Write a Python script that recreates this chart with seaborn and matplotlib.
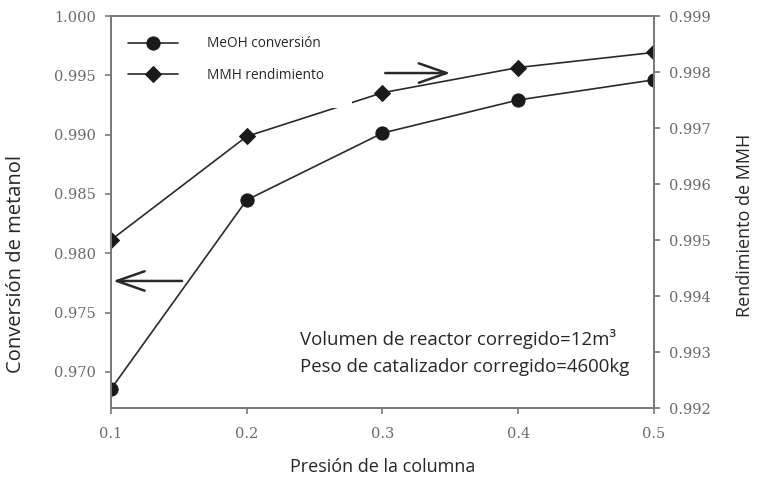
import matplotlib
matplotlib.use("Agg")
import matplotlib.pyplot as plt
import matplotlib.patches as mpatches
import seaborn as sns
import pandas as pd

presion = [0.1, 0.2, 0.3, 0.4, 0.5]
meoh_conversion = [0.96855, 0.98449, 0.99013, 0.99292, 0.99462]
mmh_rendimiento = [0.99500, 0.99685, 0.99763, 0.99808, 0.99835]
x_ticks = [0.1, 0.2, 0.3, 0.4, 0.5]
left_ticks = [0.970, 0.975, 0.980, 0.985, 0.990, 0.995, 1.000]
right_ticks = [0.992, 0.993, 0.994, 0.995, 0.996, 0.997, 0.998, 0.999]

df = pd.DataFrame({"p": presion, "meoh": meoh_conversion, "mmh": mmh_rendimiento})

sns.set_theme(style="white")
plt.rcParams["font.family"] = ["Open Sans", "DejaVu Sans"]

spine_c = "#7a7a7a"
line_c = "#2a2a2a"
tick_c = "#6a6a6a"

W, H = 759, 484
fig = plt.figure(figsize=(W / 100, H / 100), dpi=100)
ax = fig.add_axes([111 / W, 1 - 408 / H, (654 - 111) / W, (408 - 16) / H])
ax2 = ax.twinx()

sns.lineplot(data=df, x="p", y="meoh", ax=ax, color=line_c, linewidth=1.2,
             marker="o", markersize=9.5, markeredgecolor="#1a1a1a",
             markerfacecolor="#1a1a1a", label="MeOH conversión", legend=False)
sns.lineplot(data=df, x="p", y="mmh", ax=ax2, color=line_c, linewidth=1.2,
             marker="D", markersize=8, markeredgecolor="#1a1a1a",
             markerfacecolor="#1a1a1a", label="MMH rendimiento", legend=False)

ax.set_xlim(0.1, 0.5)
ax.set_ylim(0.96695, 1.000)
ax2.set_ylim(0.992, 0.999)
ax.set_xticks(x_ticks)
ax.set_xticklabels([f"{v:.1f}" for v in x_ticks])
ax.set_yticks(left_ticks)
ax.set_yticklabels([f"{v:.3f}" for v in left_ticks])
ax2.set_yticks(right_ticks)
ax2.set_yticklabels([f"{v:.3f}" for v in right_ticks])
ax.set_xlabel("")
ax.set_ylabel("")
ax2.set_ylabel("")

for a in (ax, ax2):
    for s in a.spines.values():
        s.set_color(spine_c)
        s.set_linewidth(1.4)
    a.tick_params(direction="out", length=4, width=1.2, color=spine_c,
                  labelcolor=tick_c, labelsize=10.5, pad=7,
                  labelfontfamily="DejaVu Serif")
ax.tick_params(axis="x", pad=10)
ax.tick_params(left=True, bottom=True)
ax2.tick_params(right=True)

# axis titles
fig.text(383 / W, 1 - 467 / H, "Presión de la columna", fontsize=13,
         ha="center", va="center")
fig.text(16 / W, 1 - 264 / H, "Conversión de metanol", fontsize=14.5,
         rotation=90, ha="center", va="center")
fig.text(745 / W, 1 - 225 / H, "Rendimiento de MMH", fontsize=13,
         rotation=90, ha="center", va="center")

# white patch artifact covering part of the line
ax2.add_patch(mpatches.Rectangle((0.2319, 0.997366), 0.0456, 0.0004,
                                 facecolor="white", edgecolor="none", zorder=5))

# arrows
arrow_kw = dict(arrowstyle="->,head_length=1.0,head_width=0.35",
                color="#2a2a2a", lw=1.8, mutation_scale=20, shrinkA=0, shrinkB=0)
ax.annotate("", xy=(0.1015, 0.97766), xytext=(0.1523, 0.97766), arrowprops=arrow_kw)
ax.annotate("", xy=(0.350, 0.99519), xytext=(0.302, 0.99519), arrowprops=arrow_kw)

fig.text(300 / W, 1 - 339 / H, "Volumen de reactor corregido=12m³", fontsize=13.4,
         va="center", ha="left")
fig.text(300 / W, 1 - 367 / H, "Peso de catalizador corregido=4600kg", fontsize=13.4,
         va="center", ha="left")

h1, l1 = ax.get_legend_handles_labels()
h2, l2 = ax2.get_legend_handles_labels()
leg = ax2.legend(h1 + h2, l1 + l2, loc="upper left", frameon=False, fontsize=9.8,
                 handlelength=3.7, labelspacing=1.2, handletextpad=2.1,
                 bbox_to_anchor=(0.0214, 0.962), borderaxespad=0)
leg.set_zorder(10)

fig.savefig("out.png", dpi=100)
